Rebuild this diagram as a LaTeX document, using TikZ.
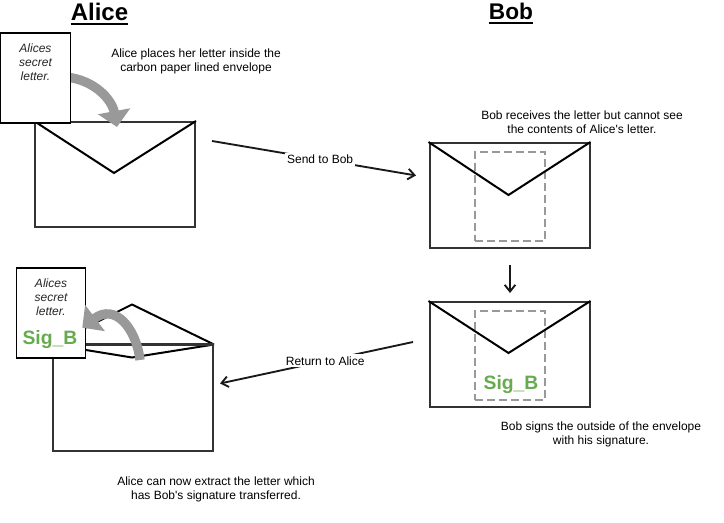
\documentclass[tikz,border=0pt]{standalone}
\usepackage{fontspec}
\newfontfamily\arial{Liberation Sans}
\usetikzlibrary{arrows.meta}
\definecolor{envcol}{RGB}{51,51,51}
\definecolor{siggreen}{RGB}{103,171,79}
\definecolor{bigarrowcol}{RGB}{153,153,153}
\definecolor{dashcol}{RGB}{153,153,153}
\begin{document}
\begin{tikzpicture}[x=0.75pt,y=-0.75pt,
  envelope/.style={draw=envcol, line width=1.5pt, fill=white, minimum width=120pt, minimum height=78.75pt, inner sep=0},
  letterbox/.style={draw=black, line width=0.9pt, fill=white, minimum width=52pt, minimum height=67.5pt, inner sep=0},
  flap/.style={draw=black, line width=1.5pt, line join=miter},
  dashbox/.style={draw=dashcol, line width=0.9pt, dash pattern=on 6pt off 3pt, minimum width=52.5pt, minimum height=66.75pt, inner sep=0},
  body/.style={font=\arial\fontsize{9}{10.5}\selectfont, align=center, inner sep=0},
  lettertext/.style={font=\arial\itshape\fontsize{9}{10.5}\selectfont, align=center, inner sep=0, text=black!85},
  title/.style={font=\arial\bfseries\fontsize{18}{20}\selectfont, inner sep=0, anchor=base},
  sig/.style={font=\arial\bfseries\fontsize{14.5}{16}\selectfont, text=siggreen, inner sep=0},
  conn/.style={draw=black!90, line width=1.4pt, -{Straight Barb[length=5pt,width=8pt]}},
  conlabel/.style={font=\arial\fontsize{9}{10.5}\selectfont, fill=white, inner sep=1.5pt},
  bigarrow/.style={draw=bigarrowcol, line width=7pt, -{Triangle[length=12pt,width=24pt]}}
]
\fill[white] (0,0) rectangle (724,523);
\useasboundingbox (0,0) rectangle (724,523);

% titles
\node[title] (alice) at (99.5,21) {Alice};
\draw[line width=1.5pt] ([yshift=-2.4pt]alice.base west) -- ([yshift=-2.4pt]alice.base east);
\node[title, font=\arial\bfseries\fontsize{17}{20}\selectfont] (bob) at (511,20) {Bob};
\draw[line width=1.5pt] ([yshift=-2.4pt]bob.base west) -- ([yshift=-2.4pt]bob.base east);

% Alice: placing letter
\node[envelope] (envA) at (115,174.5) {};
\draw[flap] (envA.north west) -- ++(80,52) -- (envA.north east);
\coordinate (letAstart) at (66,77);
\draw[bigarrow] (letAstart) .. controls (95,80) and (112,100) .. ([xshift=1.5pt,yshift=-4.5pt]envA.north);
\node[letterbox] (letA) at (35.5,78) {};
\node[lettertext] (letAtext) at (35.5,62) {Alices\\secret\\letter.};
\node[body] (txtA) at (196,61) {Alice places her letter inside the\\carbon paper lined envelope};

% Bob: received
\node[envelope] (envB1) at (509.5,195.5) {};
\node[dashbox] (dashB1) at (510,196.5) {};
\draw[flap] (envB1.north west) -- ++(80,53) -- (envB1.north east);
\node[body] (txtB1) at (582,122) {Bob receives the letter but cannot see\\the contents of Alice's letter.};

% Bob: signed
\node[envelope] (envB2) at (509.5,354.5) {};
\node[dashbox] (dashB2) at (510,355.5) {};
\draw[flap] (envB2.north west) -- ++(80,52) -- (envB2.north east);
\node[sig] (sigB2) at (511,385) {Sig\_B};
\node[body] (txtB2) at (601,434) {Bob signs the outside of the envelope\\with his signature.};

% Alice: extracting
\node[envelope] (envA2) at (133,398) {};
\draw[flap] (envA2.north west) -- ++(80,-40) -- (envA2.north east);
\draw[flap] (envA2.north west) -- ++(80,13) -- (envA2.north east);
\draw[envcol, line width=2.3pt] (envA2.north west) -- (envA2.north east);
\node[letterbox] (letA2) at (51,313) {};
\node[lettertext] (letA2text) at (51,297) {Alices\\secret\\letter.};
\node[sig] (sigA2) at (50,340) {Sig\_B};
\draw[bigarrow] (140,360) .. controls (136,328) and (115,303) .. ([xshift=-3pt,yshift=-11pt]letA2.east);
\node[body] (txtA2) at (216,489) {Alice can now extract the letter which\\has Bob's signature transferred.};

% connectors
\coordinate (sendS) at (212,141);
\coordinate (sendE) at (416,175.5);
\draw[conn] (sendS) -- node[pos=0.53, conlabel] (sendlbl) {Send to Bob} (sendE);
\coordinate (downS) at (510,265);
\coordinate (downE) at (510,293);
\draw[conn] (downS) -- (downE);
\coordinate (retS) at (413,342);
\coordinate (retE) at (220,383.5);
\draw[conn] (retS) -- node[pos=0.455, conlabel] (retlbl) {Return to Alice} (retE);
\end{tikzpicture}
\end{document}
